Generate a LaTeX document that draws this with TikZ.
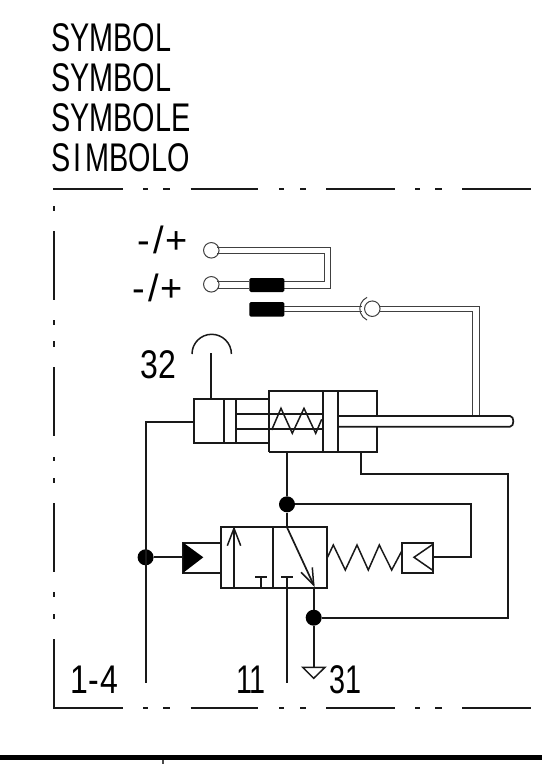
\documentclass[tikz,border=0pt]{standalone}
\usepackage{fontspec}
\setmainfont{Liberation Sans}
\tikzset{
  ln/.style={line width=1.7pt,black!90,line join=miter},
  fine/.style={line width=1.5pt,black!90},
  thin2/.style={line width=1pt,black!75},
  frm/.style={line width=1.7pt,black!90},
  dotn/.style={circle,fill=black,inner sep=0pt,minimum size=16pt},
  pin/.style={circle,draw=black!75,fill=white,line width=1pt,inner sep=0pt,minimum size=15.5pt},
  plug/.style={fill=black,rounded corners=1.5pt},
  lbl/.style={anchor=base west,inner sep=0pt,font=\fontsize{40}{40}\selectfont,xscale=0.72,transform shape,text=black},
  lblw/.style={lbl,xscale=0.8/0.72},
  lblp/.style={anchor=base west,inner sep=0pt,font=\fontsize{38}{38}\selectfont,text=black},
}
\begin{document}
\begin{tikzpicture}[x=1pt,y=-1pt]
\useasboundingbox (0,0) rectangle (542,764);
% headings
\node[lbl] (t1) at (51,51.5) {SYMBOL};
\node[lbl] (t2) at (51,91) {SYMBOL};
\node[lbl] (t3) at (51,131.5) {SYMBOLE};
\node[lbl] (t4) at (51,171) {S\hspace{5pt}I\hspace{5pt}MBOLO};
% frame
\foreach \a/\b in {53/123,143/148,163/170,190.5/258,279/284,300/306,326/395,415/420,435/442,462/530.5}{
  \draw[frm] (\a,189.3) -- (\b,189.3);
  \draw[frm] (\a,708) -- (\b,708);
}
\foreach \a/\b in {206/210.7,231/300,320/325,341/347,367/436,457/461,478/483,503/572,592/597,614/619,639/708}{
  \draw[frm] (53.7,\a) -- (53.7,\b);
}
% title bar
\fill[black] (0,754.5) rectangle (542,760);
\draw[line width=1.4pt,black!70] (163,760) -- (163,764);
% electrical labels
\node[lblp] (pm1) at (137,253) {-\hspace{3.5pt}/\hspace{1.5pt}+};
\node[lblp] (pm2) at (132,301) {-\hspace{3.5pt}/\hspace{1.5pt}+};
% sensor lines
\node[pin] (c1) at (211.3,250.3) {};
\node[pin] (c2) at (211.3,284.3) {};
\node[pin] (c3) at (372.3,308.7) {};
\draw[thin2] (c1.north east |- 0,247.7) -- (330.7,247.7) -- (330.7,288) -- (284.3,288);
\draw[thin2] (c1.south east |- 0,253) -- (324,253) -- (324,281) -- (284.3,281);
\draw[thin2] (c2.north east |- 0,281) -- (249.3,281);
\draw[thin2] (c2.south east |- 0,288) -- (249.3,288);
\fill[plug] (249.3,278) rectangle (284.3,292);
\fill[plug] (249.3,302) rectangle (284.3,316.7);
\draw[thin2] (284.3,306) -- (362,306);
\draw[thin2] (284.3,311.3) -- (362,311.3);
\draw[thin2] (379,306) -- (479,306) -- (479,415.5);
\draw[thin2] (379,311.3) -- (472.7,311.3) -- (472.7,415.5);
\draw[thin2] (c3.center) ++(115:12.5) arc[start angle=115,end angle=245,radius=12.5];
% port 32
\node[lblw] (p32) at (140.5,378) {32};
\coordinate (cap) at (211,353.3);
\draw[ln] (cap) -- (211,399);
\draw[fine] (192,354) arc[start angle=180,end angle=0,x radius=19.7,y radius=-19.7];
% cylinder
\draw[ln] (269.3,399) -- (194,399) -- (194,443.3) -- (269.3,443.3);
\draw[ln] (224.3,399) -- (224.3,443.3);
\draw[ln] (236,399) -- (236,443.3);
\draw[ln] (269.3,451.7) -- (269.3,391) -- (376.7,391) -- (376.7,416);
\draw[ln] (376.7,426.7) -- (376.7,451.7) -- (269.3,451.7);
\draw[ln] (322.7,391) -- (322.7,451.7);
\draw[ln] (337.7,391) -- (337.7,451.7);
\draw[ln] (236,414) -- (322.7,414);
\draw[ln] (236,429) -- (322.7,429);
\draw[ln] (337.7,416) -- (510,416) .. controls (514.5,416) and (514.5,426.7) .. (510,426.7) -- (337.7,426.7);
\draw[fine] (271.7,430) -- (281,408.3) -- (292.3,433.3) -- (304,408.3) -- (315.7,433.3) -- (321.7,419.3);
% junction dots
\node[dotn] (d1) at (287,504.3) {};
\node[dotn] (d2) at (313.7,617.7) {};
\node[dotn] (d3) at (145.6,557.3) {};
% port lines
\coordinate (e14) at (146,683);
\coordinate (e11) at (287,683);
\draw[ln] (194,422) -- (146,422) -- (e14);
\draw[ln] (287,451.7) -- (d1) -- (287,527.3);
\draw[ln] (d1) -- (470.7,504.3) -- (470.7,557.3) -- (433.3,557.3);
\draw[ln] (361,451.7) -- (361,474.3) -- (508.3,474.3) -- (508.3,617.7) -- (d2);
% valve
\draw[ln] (220.7,527.3) rectangle (326.7,587.7);
\draw[ln] (273.3,527.3) -- (273.3,587.7);
\draw[ln] (234,587.7) -- (234,528.3);
\draw[fine] (227.3,545.7) -- (234,528.3) -- (240.7,545.7);
\draw[ln] (261.3,587.7) -- (261.3,576.7);
\draw[ln] (255.3,576.7) -- (267.3,576.7);
\draw[ln] (281.3,576.7) -- (293.3,576.7);
\draw[ln] (287,576.7) -- (e11);
\draw[ln] (287,527.3) -- (313.7,585);
\draw[fine] (312.3,567.3) -- (313.7,585) -- (301,572.3);
% exhaust
\coordinate (ex) at (313.7,667);
\draw[ln] (313.7,587.7) -- (d2) -- (ex);
\draw[fine] (302.7,667.3) -- (325,667.3) -- (313.7,678.3) -- cycle;
% pilot
\draw[ln] (d3) -- (183.3,557.3);
\draw[ln] (220.7,542.7) -- (183.3,542.7) -- (183.3,572.7) -- (220.7,572.7);
\fill[black] (183.3,542.7) -- (203.3,557.3) -- (183.3,572.7) -- cycle;
% return spring and pilot
\draw[fine] (326.7,559) -- (333.3,545) -- (345.3,570) -- (357,545) -- (368.3,570) -- (379.3,545) -- (391.7,570) -- (402.3,550);
\draw[ln] (402.3,542.7) rectangle (433.3,572.7);
\draw[fine] (433.3,544) -- (414,557.3) -- (433.3,570.7);
% labels
\node[lblw] (l14) at (70,693) {1\hspace{1pt}-\hspace{1pt}4};
\node[lbl] (l11) at (236,693) {1\hspace{-3pt}1};
\node[lbl] (l31) at (329,693) {31};
\end{tikzpicture}
\end{document}
